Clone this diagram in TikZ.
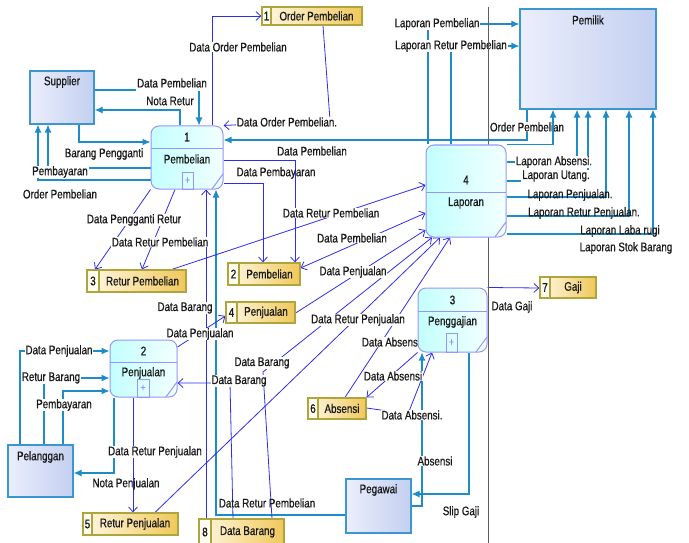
\documentclass[tikz,border=0pt]{standalone}
\usepackage{fontspec}
\setmainfont{Liberation Sans}[FakeStretch=0.79,FakeBold=0.7]
\usetikzlibrary{arrows.meta,calc}
\pgfdeclarelayer{bg}
\pgfsetlayers{bg,main}

\definecolor{cBlue}{RGB}{45,45,240}
\definecolor{cTeal}{RGB}{30,140,200}
\definecolor{procB}{RGB}{150,150,250}
\definecolor{procL}{RGB}{195,255,255}
\definecolor{procR}{RGB}{242,255,255}
\definecolor{entB}{RGB}{60,150,210}
\definecolor{entL}{RGB}{235,238,252}
\definecolor{entR}{RGB}{195,208,240}
\definecolor{storeB}{RGB}{175,165,60}
\definecolor{storeL}{RGB}{255,248,228}
\definecolor{storeR}{RGB}{240,200,90}
\definecolor{cellF}{RGB}{255,252,240}
\definecolor{boundC}{RGB}{95,95,95}
\definecolor{txtC}{RGB}{25,25,25}

\tikzset{
  every node/.style={font=\fontsize{12.4}{14}\selectfont},
  proc/.style={draw=procB, line width=1pt, rounded corners=8pt,
    left color=procL, right color=procR, inner sep=0pt},
  procline/.style={draw=procB, line width=1pt},
  ent/.style={draw=entB, line width=1.2pt, left color=entL, right color=entR, inner sep=0pt},
  store/.style={draw=storeB, line width=1.2pt, left color=storeL, right color=storeR, inner sep=0pt},
  storeline/.style={draw=storeB, line width=1.2pt},
  bflow/.style={draw=cBlue, line width=0.8pt, -{Straight Barb[length=5pt,width=9pt]}},
  bflowboth/.style={draw=cBlue, line width=0.8pt,
    {Straight Barb[length=5pt,width=9pt]}-{Straight Barb[length=5pt,width=9pt]}},
  tflow/.style={draw=cTeal, line width=1.1pt, -{Latex[length=8pt,width=7pt]}},
  boundary/.style={draw=boundC, line width=1pt},
  lbl/.style={inner xsep=1pt, inner ysep=0.5pt, text=txtC},
  lblw/.style={lbl, fill=white},
  plussign/.style={inner sep=0pt, text=procB, font=\fontsize{11}{11}\selectfont},
}

% process: name, x1, y1, x2, y2, divider y, number y, number, title
\newcommand{\procbox}[9]{%
  \node[proc, minimum width={(#4-#2)*1pt}, minimum height={(#5-#3)*1pt}]
    (#1) at ({(#2+#4)/2},{(#3+#5)/2}) {};
  \draw[procline] (#2,#6) -- (#4,#6);
  \draw[procline] ({#4-11},#5) -- (#4,{#5-15});
  \node[lbl] (#1num) at ({(#2+#4)/2},#7) {#8};
  \node[lbl] (#1txt) at ({(#2+#4)/2},{#6+11}) {#9};
}
% small expansion box at the foot of a process
\newcommand{\plusbox}[5]{%
  \draw[procline] (#2,#3) rectangle (#4,#5);
  \node[plussign] (#1) at ({(#2+#4)/2},{(#3+#5)/2}) {+};
}
% external entity: name, x1, y1, x2, y2, title, title y
\newcommand{\entity}[7]{%
  \node[ent, minimum width={(#4-#2)*1pt}, minimum height={(#5-#3)*1pt}]
    (#1) at ({(#2+#4)/2},{(#3+#5)/2}) {};
  \node[lbl] (#1txt) at ({(#2+#4)/2},#7) {#6};
}
% data store: name, x1, y1, x2, y2, cell edge x, number, title
\newcommand{\datastore}[8]{%
  \node[store, minimum width={(#4-#2)*1pt}, minimum height={(#5-#3)*1pt}]
    (#1) at ({(#2+#4)/2},{(#3+#5)/2}) {};
  \draw[storeline, fill=cellF] (#2,#3) rectangle (#6,#5);
  \node[lbl] (#1num) at ({(#2+#6)/2},{(#3+#5)/2}) {#7};
  \node[lbl] (#1txt) at ({(#6+#4)/2},{(#3+#5)/2}) {#8};
}

\begin{document}
\begin{tikzpicture}[x=1pt,y=-1pt]
\useasboundingbox (0,0) rectangle (689,543);

% external entities
\entity{sup}{30}{71}{94}{124}{Supplier}{82}
\entity{pem}{520}{9}{656}{109}{Pemilik}{20}
\entity{pel}{8}{445}{73}{497}{Pelanggan}{457}
\entity{peg}{346}{479}{411}{533}{Pegawai}{490}

% processes
\procbox{p1}{151}{126}{223}{189}{148}{137}{1}{Pembelian}
\plusbox{p1plus}{182}{172}{193}{189}
\procbox{p2}{110}{340}{177}{397}{362}{351}{2}{Penjualan}
\plusbox{p2plus}{137}{379}{149}{397}
\procbox{p3}{418}{288}{487}{352}{311}{300}{3}{Penggajian}
\plusbox{p3plus}{446}{333}{457}{352}
\procbox{lap}{426}{145}{506}{237}{192}{180}{4}{Laporan}

% data stores
\datastore{s1}{262}{7}{362}{25}{271}{1}{Order Pembelian}
\datastore{s2}{228}{263}{300}{285}{239}{2}{Pembelian}
\datastore{s3}{87}{270}{186}{292}{99}{3}{Retur Pembelian}
\datastore{s4}{226}{302}{295}{323}{237}{4}{Penjualan}
\datastore{s5}{83}{513}{178}{535}{92}{5}{Retur Penjualan}
\datastore{s6}{308}{398}{366}{419}{318}{6}{Absensi}
\datastore{s7}{540}{277}{596}{298}{550}{7}{Gaji}
\datastore{s8}{199}{519}{284}{545}{211}{8}{Data Barang}

\begin{pgfonlayer}{bg}
% flows with the external entities
\draw[tflow] (sup.east |- 0,90) -| (p1.north -| 199,0);
\draw[tflow] (p1.north -| 180,0) |- (sup.east |- 0,110);
\draw[tflow] (sup.south -| 79,0) |- (p1.west |- 0,142);
\draw[tflow] (p1.west |- 0,168) -| (sup.south -| 48,0);
\draw[tflow] (p1.west |- 0,180) -| (sup.south -| 38,0);
\draw[tflow] (pem.south -| 527,0) |- (p1.east |- 0,140);
\draw[tflow] (lap.north -| 428,0) |- (pem.west |- 0,24);
\draw[tflow] (lap.north -| 451,0) |- (pem.west |- 0,46);
\draw[tflow] (lap.east |- 0,162) -| (pem.south -| 577,0);
\draw[tflow] (lap.east |- 0,181) -| (pem.south -| 588,0);
\draw[tflow] (lap.east |- 0,197) -| (pem.south -| 606,0);
\draw[tflow] (lap.east |- 0,216) -| (pem.south -| 629,0);
\draw[tflow] (lap.east |- 0,234) -| (pem.south -| 653,0);
\draw[tflow] (pel.north -| 20,0) |- (p2.west |- 0,351);
\draw[tflow] (pel.north -| 44,0) |- (p2.west |- 0,378);
\draw[tflow] (pel.north -| 63,0) |- (p2.west |- 0,391);
\draw[tflow] (p2.south -| 114,0) |- (pel.east |- 0,473);
\draw[tflow] (peg.west |- 0,515) -| (p1.south -| 216,0);
\draw[tflow] (p3.south -| 469,0) |- (peg.east |- 0,494);
\draw[tflow] (peg.east |- 0,506) -| (p3.south -| 422,0);

% flows with the data stores
\draw[bflow] (p1.north -| 212,0) |- (s1.west);
\draw[bflow] (s1.south -| 323,0) -- (330,120) -- (p1.north east);
\draw[bflow] (p1.south west) -- (s3.north -| 95,0);
\draw[bflow] (p1.south -| 175,0) -- (s3.north -| 142,0);
\draw[bflow] (p1.east |- 0,160) -| (s2.north -| 295,0);
\draw[bflow] (p1.east |- 0,183) -| (s2.north -| 263,0);
\draw[bflow] (s8.north -| 206,0) -- (p1.south -| 206,0);
\draw[bflow] (p2.east |- 0,347) -- (s4.west |- 0,316);
\draw[bflow] (s8.north -| 233,0) -- (230,383) -- (p2.east |- 0,383);
\draw[bflow] (p2.south -| 133,0) -- (s5.north -| 133,0);
\draw[bflow] (s3.north -| 172,0) -- (lap.west |- 0,185);
\draw[bflowboth] (s2.east |- 0,268) -- (lap.west |- 0,213);
\draw[bflow] (s4.east |- 0,313) -- (lap.west |- 0,230);
\draw[bflow] (s8.north -| 272,0) -- (263,372) -- (lap.south -| 432,0);
\draw[bflow] (s5.north -| 155,0) -- (lap.south -| 440,0);
\draw[bflow] (s6.north -| 345,0) -- (lap.south -| 450,0);
\draw[bflow] (p3.south west) -- (s6.north east);
\draw[bflow] (s6.east |- 0,408) -- (408,414) -- (p3.south -| 432,0);
\draw[bflow] (p3.north east) -- (s7.west |- 0,288);

% flow labels
\node[lblw, inner ysep=3.5pt] (l1) at (172,83) {Data Pembelian};
\node[lbl]  (l2)  at (170,101) {Nota Retur};
\node[lbl]  (l3)  at (104,154) {Barang Pengganti};
\node[lblw] (l4)  at (60,172) {Pembayaran};
\node[lbl]  (l5)  at (60,194) {Order Pembelian};
\node[lblw] (l6)  at (527,127) {Order Pembelian};
\node[lblw] (l7)  at (437,24) {Laporan Pembelian};
\node[lblw] (l8)  at (451,46) {Laporan Retur Pembelian};
\node[lblw] (l9)  at (554,162) {Laporan Absensi.};
\node[lblw] (l10) at (556,176) {Laporan Utang.};
\node[lbl]  (l11) at (570,195) {Laporan Penjualan.};
\node[lbl]  (l12) at (584,213) {Laporan Retur Penjualan.};
\node[lbl]  (l13) at (620,231) {Laporan Laba rugi};
\node[lbl]  (l14) at (626,248) {Laporan Stok Barang};
\node[lblw] (l15) at (59,351) {Data Penjualan};
\node[lblw] (l16) at (51,378) {Retur Barang};
\node[lblw] (l17) at (64,405) {Pembayaran};
\node[lbl]  (l18) at (126,484) {Nota Penjualan};
\node[lbl]  (l19) at (267,503) {Data Retur Pembelian};
\node[lbl]  (l20) at (461,512) {Slip Gaji};
\node[lblw] (l21) at (435,461) {Absensi};
\node[lblw] (l22) at (238,47) {Data Order Pembelian};
\node[lblw] (l23) at (287,122) {Data Order Pembelian.};
\node[lblw] (l24) at (134,220) {Data Pengganti Retur};
\node[lblw] (l25) at (160,242) {Data Retur Pembelian};
\node[lbl]  (l26) at (312,151) {Data Pembelian};
\node[lbl]  (l27) at (276,173) {Data Pembayaran};
\node[lblw] (l28) at (185,308) {Data Barang};
\node[lblw] (l29) at (200,334) {Data Penjualan};
\node[lblw] (l30) at (239,381) {Data Barang};
\node[lblw] (l31) at (155,452) {Data Retur Penjualan};
\node[lblw] (l32) at (331,213) {Data Retur Pembelian};
\node[lblw] (l33) at (352,238) {Data Pembelian};
\node[lblw] (l34) at (353,272) {Data Penjualan};
\node[lblw] (l35) at (262,363) {Data Barang};
\node[lblw] (l36) at (358,320) {Data Retur Penjualan};
\node[lblw] (l37) at (391,342) {Data Absensi};
\node[lblw] (l38) at (393,376) {Data Absensi};
\node[lblw] (l39) at (412,415) {Data Absensi.};
\node[lbl]  (l40) at (512,307) {Data Gaji};

% drawn over the labels
\draw[tflow] (lap.north east) -| (pem.south -| 553,0);
\draw[boundary] (488,7) -- (488,543);
\end{pgfonlayer}
\end{tikzpicture}
\end{document}
